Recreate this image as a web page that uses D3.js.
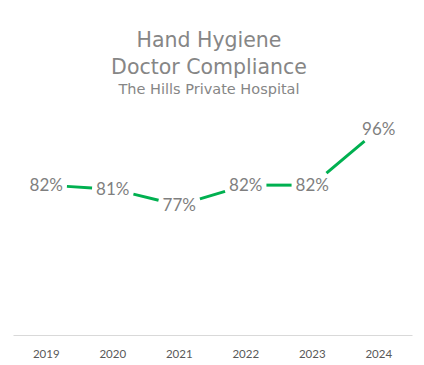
<!DOCTYPE html>
<html>
<head>
<meta charset="utf-8">
<script src="https://cdn.jsdelivr.net/npm/d3@7"></script>
<style>
	body { margin: 0; background: #FFFFFF; }
	svg { display: block; }
</style>
</head>
<body>
<div id="div_id_main"></div>
<script>

// data -------------------------------------------------

const g_dsYears = ["2019", "2020", "2021", "2022", "2023", "2024"];
const g_dsCompliance = [82, 81, 77, 82, 82, 96];

const g_vTitleLines = ["Hand Hygiene", "Doctor Compliance"];
const g_sSubTitle = "The Hills Private Hospital";

// layout -----------------------------------------------

const MAIN_WIDTH = 424;
const MAIN_HEIGHT = 365;

const PLOT_LEFT = 13;
const PLOT_RIGHT = 412;
const PLOT_TOP = 113;
const PLOT_BOTTOM = 335;

function funcDraw_Main() {

	let svgMain = d3.select("#div_id_main")
					.append("svg")
						.attr("id", "svg_id_main")
						.attr("width", MAIN_WIDTH)
						.attr("height", MAIN_HEIGHT);

	let fScale_Year = d3.scaleBand()
							.domain(g_dsYears)
							.range([PLOT_LEFT, PLOT_RIGHT]);

	let fScale_Value = d3.scaleLinear()
							.domain([44.6, 100])
							.range([PLOT_BOTTOM, PLOT_TOP]);

	funcDraw_Title(svgMain);

	// x axis --------------------------------------------

	let gAxis = svgMain.append("g")
						.attr("id", "g_id_axis")
						.attr("transform", "translate(0," + PLOT_BOTTOM + ")")
						.call(d3.axisBottom(fScale_Year).tickSize(0).tickPadding(15));

	gAxis.select(".domain")
			.attr("stroke", "#D9D9D9")
			.attr("stroke-width", 1);

	gAxis.selectAll("text")
			.attr("fill", "#595959")
			.attr("font-family", "Lato, 'Open Sans', sans-serif")
			.attr("font-size", "11.5px");

	// labels first, so the line can stop at their boxes ---

	let vPoints = g_dsCompliance.map(function(v, i) {
		return { x: fScale_Year(g_dsYears[i]) + fScale_Year.bandwidth() / 2, y: fScale_Value(v), v: v };
	});

	let gLabels = svgMain.append("g")
						.attr("id", "g_id_labels");

	gLabels.selectAll("text")
		.data(vPoints)
		.enter()
			.append("text")
				.attr("x", function(d) { return d.x; })
				.attr("y", function(d) { return d.y; })
				.attr("dy", "0.36em")
				.attr("text-anchor", "middle")
				.attr("fill", "#7F7F7F")
				.attr("font-family", "Lato, 'Open Sans', sans-serif")
				.attr("font-size", "17px")
				.text(function(d) { return d.v + "%"; });

	gLabels.selectAll("text").each(function(d) {
		let bb = this.getBBox();
		d.hw = bb.width / 2 + 4;
		d.hh = 12;
	});

	// line segments between label boxes ------------------

	let vSegments = [];

	for (let i = 0; i < vPoints.length - 1; i++) {

		let a = vPoints[i];
		let b = vPoints[i + 1];

		let dx = b.x - a.x;
		let dy = b.y - a.y;

		let tA = Math.min(a.hw / Math.abs(dx), dy == 0 ? 1 : a.hh / Math.abs(dy));
		let tB = 1 - Math.min(b.hw / Math.abs(dx), dy == 0 ? 1 : b.hh / Math.abs(dy));

		if (tB > tA)
			vSegments.push({ x1: a.x + dx * tA, y1: a.y + dy * tA, x2: a.x + dx * tB, y2: a.y + dy * tB });
	}

	svgMain.append("g")
			.attr("id", "g_id_line")
			.selectAll("line")
			.data(vSegments)
			.enter()
				.append("line")
					.attr("x1", function(d) { return d.x1; })
					.attr("y1", function(d) { return d.y1; })
					.attr("x2", function(d) { return d.x2; })
					.attr("y2", function(d) { return d.y2; })
					.attr("stroke", "#00B050")
					.attr("stroke-width", 3);
}

function funcDraw_Title(svgMain) {

	let gTitle = svgMain.append("g")
						.attr("id", "g_id_title");

	gTitle.selectAll("text.text_class_title")
		.data(g_vTitleLines)
		.enter()
			.append("text")
				.attr("class", "text_class_title")
				.attr("x", 209)
				.attr("y", function(d, i) { return 47 + i * 27; })
				.attr("text-anchor", "middle")
				.attr("fill", "#868686")
				.attr("font-family", "'Century Gothic', 'DejaVu Sans', sans-serif")
				.attr("font-size", "20.5px")
				.text(function(d) { return d; });

	gTitle.append("text")
			.attr("x", 209)
			.attr("y", 94)
			.attr("text-anchor", "middle")
			.attr("fill", "#868686")
			.attr("font-family", "'Century Gothic', 'DejaVu Sans', sans-serif")
			.attr("font-size", "14.5px")
			.text(g_sSubTitle);
}

funcDraw_Main();

</script>
</body>
</html>
